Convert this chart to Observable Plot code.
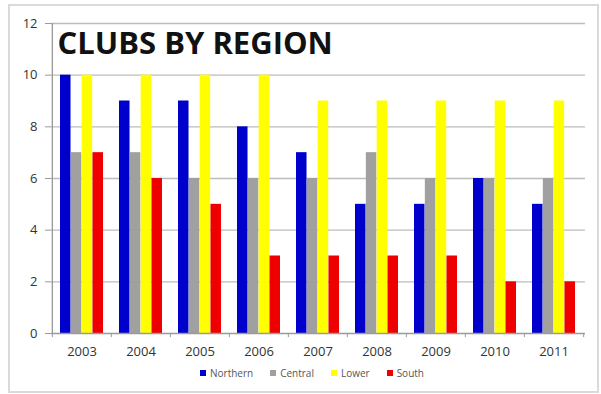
<!DOCTYPE html>
<html>
<head>
<meta charset="utf-8">
<script src="https://cdn.jsdelivr.net/npm/d3@7"></script>
<script src="https://cdn.jsdelivr.net/npm/@observablehq/plot@0.6"></script>
<style>
  html, body { margin: 0; padding: 0; background: #fff; }
  #wrap { position: relative; width: 601px; height: 394px; font-family: "Open Sans", sans-serif; }
  #frame { position: absolute; left: 8px; top: 4px; width: 587px; height: 385px;
           border: 2px solid #dadada; pointer-events: none; }
  g[aria-label="title"] text { letter-spacing: -0.6px; }
  .lg-swatches { justify-content: center; min-height: 26px !important; margin: 0 !important;
                 padding-left: 56px; padding-right: 16px; font-size: 10px; color: #555;
                 font-family: "Open Sans", sans-serif; }
  .lg-swatch { margin-right: 17px !important; }
  .lg-swatch svg { margin-right: 4px !important; }
</style>
</head>
<body>
<div id="wrap"><div id="frame"></div></div>
<script>
// Number of clubs per region, 2003–2011
const years = [2003, 2004, 2005, 2006, 2007, 2008, 2009, 2010, 2011];
const regions = ["Northern", "Central", "Lower", "South"];
const northern = [10, 9, 9, 8, 7, 5, 5, 6, 5];
const central  = [7, 7, 6, 6, 6, 7, 6, 6, 6];
const lower    = [10, 10, 10, 10, 9, 9, 9, 9, 9];
const south    = [7, 6, 5, 3, 3, 3, 3, 2, 2];
const yTicks = [0, 2, 4, 6, 8, 10, 12];
const colors = ["#0000cc", "#a0a0a0", "#ffff00", "#ee0000"];

const series = [northern, central, lower, south];
const rows = regions.flatMap((region, i) =>
  years.map((year, j) => ({year, region, value: series[i][j]})));

// layout
const width = 601, height = 360;
const marginLeft = 51, marginRight = 16, marginTop = 23, marginBottom = 27;
const paddingInner = 0.27, paddingOuter = paddingInner / 2;
const step = (width - marginLeft - marginRight) / (years.length - paddingInner + 2 * paddingOuter);
const bandwidth = step * (1 - paddingInner);
const slot = bandwidth / regions.length;

// one bar mark per region, each taking its own quarter of the year band
const bars = regions.map((region, i) =>
  Plot.barY(rows.filter(d => d.region === region), {
    x: "year", y: "value", fill: "region",
    insetLeft: i * slot, insetRight: (regions.length - 1 - i) * slot
  }));

const chart = Plot.plot({
  width, height, marginLeft, marginRight, marginTop, marginBottom,
  style: {fontFamily: "Open Sans, sans-serif", background: "transparent"},
  x: {type: "band", domain: years, paddingInner, paddingOuter, label: null},
  y: {domain: [0, 12], label: null},
  color: {domain: regions, range: colors},
  marks: [
    Plot.ruleY(yTicks.slice(1), {stroke: "#bcbcbc", strokeWidth: 1.3}),
    ...bars,
    Plot.ruleY([0], {stroke: "#9a9a9a", strokeWidth: 1.3}),
    Plot.ruleX([years[0]], {x: d => d, y1: 0, y2: 12, dx: -step / 2, stroke: "#9a9a9a", strokeWidth: 1.3}),
    Plot.ruleX(years, {x: d => d, y1: 0, y2: -0.16, dx: -step / 2, stroke: "#9a9a9a"}),
    Plot.ruleX([years[years.length - 1]], {x: d => d, y1: 0, y2: -0.16, dx: step / 2, stroke: "#9a9a9a"}),
    Plot.axisY({ticks: yTicks, tickSize: 6, tickPadding: 8, fontSize: 13, stroke: "#9a9a9a", fill: "#333", label: null}),
    Plot.axisX({tickSize: 0, tickPadding: 13, fontSize: 13, fill: "#333", label: null, tickFormat: d => String(d)}),
    Plot.text(["CLUBS BY REGION"], {
      text: d => d, frameAnchor: "top-left", textAnchor: "start", lineAnchor: "top",
      dx: 6, dy: 8, fontSize: 31, fontWeight: 700, fill: "#111", ariaLabel: "title"
    })
  ]
});

const wrap = document.getElementById("wrap");
wrap.appendChild(chart);
wrap.appendChild(chart.legend("color", {className: "lg", swatchSize: 6}));
</script>
</body>
</html>
